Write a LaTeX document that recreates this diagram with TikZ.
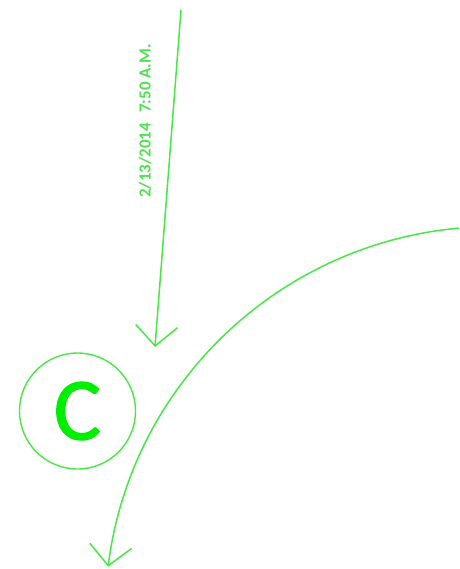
\documentclass[tikz,border=0pt]{standalone}
\usepackage{fontspec}
\newfontfamily\carlito{Carlito}
\newfontfamily\carlitoheavy[FakeBold=1.2]{Carlito}
\usetikzlibrary{arrows.meta}
\definecolor{linegreen}{RGB}{70,232,70}
\definecolor{cgreen}{RGB}{0,238,0}
\definecolor{labelgreen}{RGB}{80,225,80}
\tikzset{
  conn/.style={draw=linegreen, line width=1.5pt, -{Straight Barb[length=20pt,width=42pt,line width=1.5pt]}},
}
\begin{document}
\begin{tikzpicture}[x=1pt,y=1pt]
\useasboundingbox (0,0) rectangle (459,-569);
% circled C
\node[circle, draw=linegreen, line width=1.4pt, minimum size=116pt, inner sep=0pt,
      text=cgreen, font=\carlitoheavy\fontsize{89}{89}\selectfont] (c) at (77.5,-411) {C};
% date label
\node[rotate=90, text=labelgreen, font=\carlito\bfseries\fontsize{17}{17}\selectfont, inner sep=0pt] (lbl) at (145,-121)
  {2/13/2014\hspace{10pt}7:50 A.M.};
% straight arrow
\coordinate (a1) at (181,-10);
\coordinate (a2) at (155,-347);
\draw[conn] (a1) -- (a2);
% arc arrow
\coordinate (b1) at ({494+389*cos(95.2)},{-615.5+389*sin(95.2)});
\draw[conn] (b1) arc[start angle=95.2, end angle=172.8, radius=389pt] coordinate (b2);
\end{tikzpicture}
\end{document}
